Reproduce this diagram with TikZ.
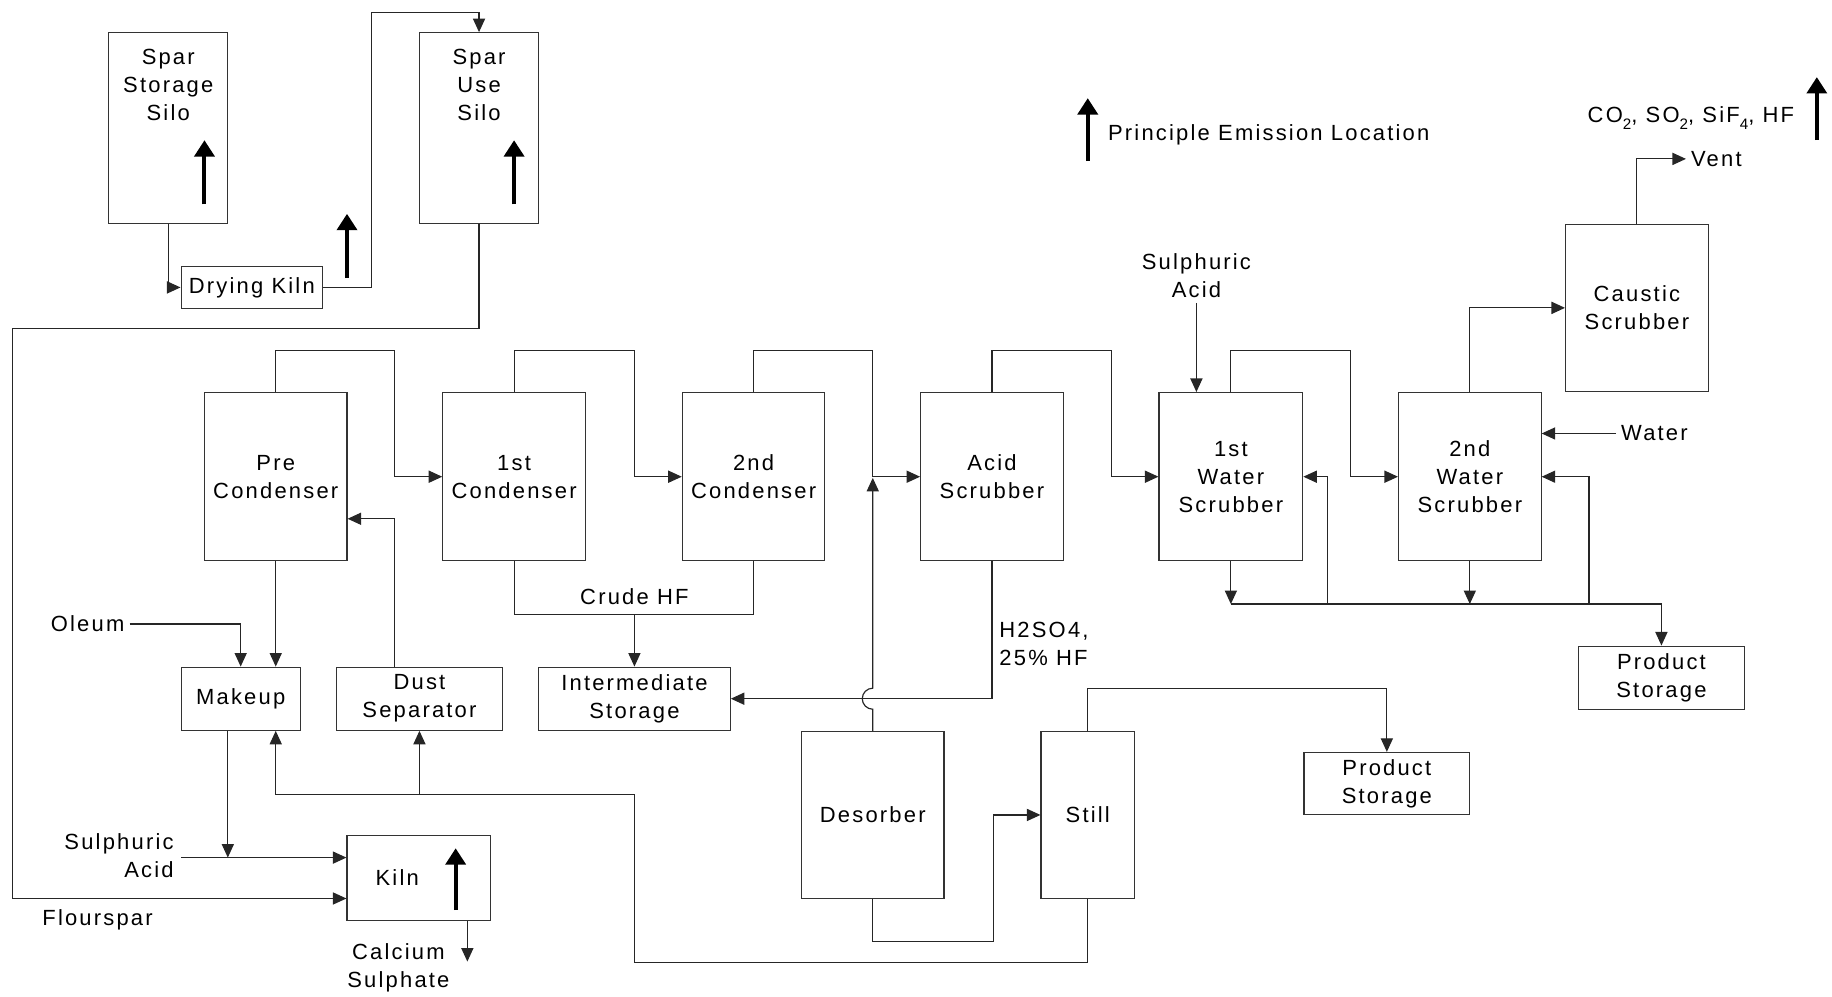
\documentclass[tikz,border=0pt]{standalone}
\usepackage{fontspec}
\setmainfont{Liberation Sans}[LetterSpace=10]
\usetikzlibrary{arrows.meta,calc}
\newcommand\lowsub[1]{\raisebox{-0.55ex}{\fontsize{6.5}{6.5}\selectfont #1}}
\begin{document}
\begin{tikzpicture}[x=0.5pt,y=-0.5pt,
  font=\fontsize{9.4}{12}\selectfont,
  box/.style={draw=black!80, line width=0.5pt, fill=white, inner sep=0pt, align=center},
  lbl/.style={align=center, inner sep=2pt},
  conn/.style={draw=black!85, line width=0.5pt},
  arr/.style={-{Triangle[length=5.8pt,width=5.2pt]}},
  emis/.style={line width=1.7pt, -{Triangle[length=7pt,width=8.5pt]}}]
\useasboundingbox (0,0) rectangle (1568,853);

% boxes
\node[box, minimum width=51pt, minimum height=81.5pt] (ssilo) at (144,109.5) {};
\node[lbl] (ssilot) at (144,73) {Spar\\Storage\\Silo};
\node[box, minimum width=51pt, minimum height=81.5pt] (usilo) at (410,109.5) {};
\node[lbl] (usilot) at (410,73) {Spar\\Use\\Silo};
\node[box, minimum width=60.5pt, minimum height=18pt] (dkiln) at (215.5,246) {Drying Kiln};

\node[box, minimum width=61pt, minimum height=72pt] (pre) at (236,408) {Pre\\Condenser};
\node[box, minimum width=61pt, minimum height=72pt] (c1) at (440,408) {1st\\Condenser};
\node[box, minimum width=61pt, minimum height=72pt] (c2) at (645,408) {2nd\\Condenser};
\node[box, minimum width=61pt, minimum height=72pt] (acid) at (849,408) {Acid\\Scrubber};
\node[box, minimum width=61.5pt, minimum height=72pt] (ws1) at (1053.5,408) {1st\\Water\\Scrubber};
\node[box, minimum width=61pt, minimum height=72pt] (ws2) at (1258,408) {2nd\\Water\\Scrubber};
\node[box, minimum width=61pt, minimum height=71.5pt] (caustic) at (1401,263.5) {Caustic\\Scrubber};
\node[box, minimum width=71pt, minimum height=27pt] (prod1) at (1422,580) {Product\\Storage};
\node[box, minimum width=71pt, minimum height=26.5pt] (prod2) at (1187,670.5) {Product\\Storage};
\node[box, minimum width=82pt, minimum height=27pt] (inter) at (543,598) {Intermediate\\Storage};
\node[box, minimum width=51pt, minimum height=27pt] (makeup) at (206,598) {Makeup};
\node[box, minimum width=71pt, minimum height=27pt] (dust) at (359,598) {Dust\\Separator};
\node[box, minimum width=61.5pt, minimum height=36.5pt] (kiln) at (358.5,751.5) {};
\node[lbl] (kilnt) at (340,751) {Kiln};
\node[box, minimum width=61pt, minimum height=71.5pt] (desorber) at (747,697.5) {Desorber};
\node[box, minimum width=40pt, minimum height=71.5pt] (still) at (931,697.5) {Still};

% free texts
\node[lbl] (flour) at (83.5,787) {Flourspar};
\node[lbl, anchor=east, align=right] (sa1) at (153,732.5) {Sulphuric\\Acid};
\node[lbl] (oleum) at (75,534) {Oleum};
\node[lbl] (calc) at (341,828) {Calcium\\Sulphate};
\node[lbl] (crude) at (543,511) {Crude HF};
\node[lbl, anchor=west, align=left] (hso) at (851,551.5) {H2SO4,\\25\% HF};
\node[lbl] (sa2) at (1024,236) {Sulphuric\\Acid};
\node[lbl] (water) at (1416,371) {Water};
\node[lbl, anchor=west] (vent) at (1443,136) {Vent};
\node[lbl, anchor=west] (legend) at (944,115) {Principle Emission Location};
\node[lbl, anchor=east] (gases) at (1540,101) {CO\lowsub{2}, SO\lowsub{2}, SiF\lowsub{4}, HF};

% coordinates
\coordinate (fl) at (11,769);
\coordinate (saL) at (155,734);
\coordinate (mkj) at (195,734);
\coordinate (cs) at (400,823);
\coordinate (dj) at (338,444);
\coordinate (mr) at (236,680);
\coordinate (bl) at (1054,517);
\coordinate (r1) at (1136,517);
\coordinate (r2) at (1360,517);
\coordinate (hf) at (543,526);

% connectors top-left
\draw[conn,arr] (ssilo.south) |- (dkiln.west);
\draw[conn,arr] (dkiln.east) -| (318,11) -| (usilo.north);
\draw[conn,arr] (usilo.south) |- (11,281) -- (fl) -- (kiln.west |- fl);
\draw[conn,arr] (saL) -- (kiln.west |- saL);
\draw[conn,arr] (makeup.south -| mkj) -- (mkj);
\draw[conn,arr] (kiln.south -| cs) -- (cs);
\draw[conn,arr] (oleum.east) -| (makeup.north);
\draw[conn,arr] (pre.south) -- (pre.south |- makeup.north);
\draw[conn,arr] (dust.north -| dj) |- (pre.east |- dj);
\draw[conn,arr] (still.south) |- (543,824) -- (543,680) -- (mr) -- (makeup.south -| mr);
\draw[conn,arr] (dust.south |- mr) -- (dust.south);

% main train
\draw[conn,arr] (pre.north) |- (338,300) |- (c1.west);
\draw[conn,arr] (c1.north) |- (543,300) |- (c2.west);
\draw[conn,arr] (c2.north) |- (747,300) |- (acid.west);
\draw[conn,arr] (acid.north) |- (951,300) |- (ws1.west);
\draw[conn,arr] (ws1.north) |- (1156,300) |- (ws2.west);
\draw[conn,arr] (ws2.north) |- (caustic.west);
\draw[conn,arr] (caustic.north) |- (vent.west);
\draw[conn,arr] (sa2.south) -- (sa2.south |- ws1.north);
\draw[conn,arr] (water.west) -- (water.west -| ws2.east);

% water scrubber liquors
\draw[conn,arr] (ws1.south) -- (ws1.south |- bl);
\draw[conn,arr] (ws2.south) -- (ws2.south |- bl);
\draw[conn,arr] (bl) -| (prod1.north);
\draw[conn,arr] (r1) |- (ws1.east);
\draw[conn,arr] (r2) |- (ws2.east);

% crude HF
\draw[conn] (c1.south) |- (hf) -| (c2.south);
\draw[conn,arr] (hf) -- (inter.north);

% acid scrubber liquor and desorber
\draw[conn,arr] (acid.south) |- (inter.east |- 0,598);
\draw[conn,arr] (desorber.north) -- (747,607) arc[start angle=270,end angle=90,radius=4.5pt] -- (747,409);
\draw[conn,arr] (desorber.south) |- (850,806) |- (still.west);
\draw[conn,arr] (still.north) |- (1187,589) -- (prod2.north);

% emission arrows
\draw[emis] (175,175) -- (175,120);
\draw[emis] (440,175) -- (440,120);
\draw[emis] (297,238) -- (297,183);
\draw[emis] (390,779) -- (390,726);
\draw[emis] (931,138) -- (931,84);
\draw[emis] (1555,120) -- (1555,66);
\end{tikzpicture}
\end{document}
